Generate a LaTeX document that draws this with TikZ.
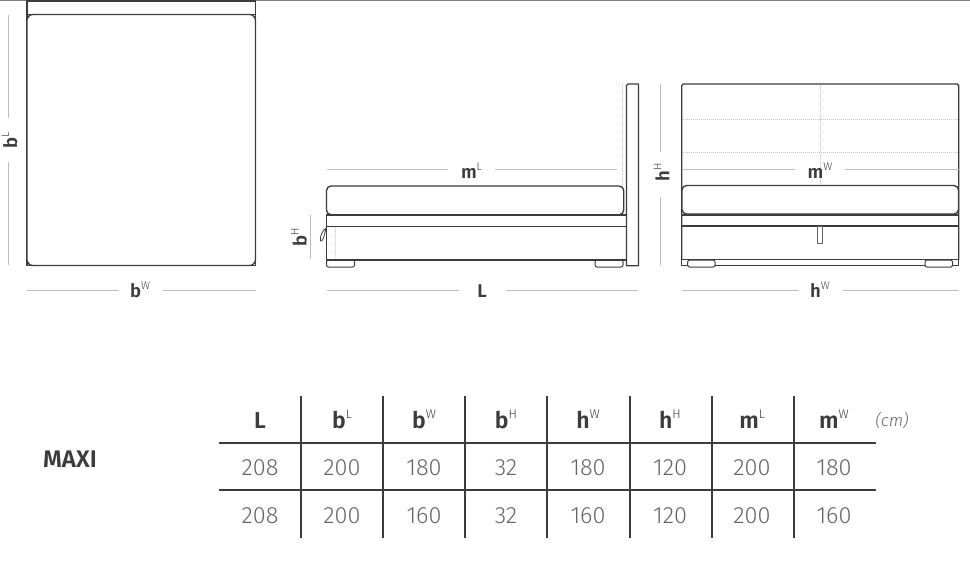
\documentclass[tikz,border=0pt]{standalone}
\usepackage{fontspec}
\setmainfont{Fira Sans}
\newfontfamily\lightfont{Fira Sans Light}
\newfontfamily\medfont{Fira Sans SemiBold}
\definecolor{ink}{HTML}{3C3C3C}
\definecolor{dimc}{HTML}{BDBDBD}
\definecolor{numc}{HTML}{666666}
\definecolor{dotc}{HTML}{C4C4C4}
\newcommand{\dimlab}[2]{{\fontsize{18.5}{18}\selectfont\medfont #1}\raisebox{8pt}{\fontsize{11}{11}\selectfont\lightfont #2}}
\newcommand{\headlab}[2]{{\fontsize{23}{22}\selectfont\medfont #1}\raisebox{10pt}{\fontsize{12.5}{12}\selectfont\lightfont #2}}
\tikzset{
  x=1pt,y=-1pt,
  obj/.style={draw=ink,line width=1.35pt,line join=round},
  dimline/.style={draw=dimc,line width=0.9pt},
  dots/.style={draw=dotc,line width=0.8pt,dash pattern=on 1pt off 1pt},
  lab/.style={inner sep=0pt,text=ink},
  num/.style={inner sep=0pt,text=numc,font=\fontsize{23.5}{22}\selectfont\lightfont},
  head/.style={inner sep=0pt,text=ink},
  grid/.style={draw=ink,line width=1.4pt},
}
\begin{document}
\begin{tikzpicture}
\useasboundingbox[fill=white] (0,0) rectangle (970,566);
% top rule
\draw[draw=gray,line width=1.2pt] (0,0.3) -- (970,0.3);
\draw[draw=ink,line width=2.4pt] (27,0.6) -- (255.5,0.6);
% top view
\draw[obj] (27,0.5) rectangle (255.5,14.5);
\draw[obj] (27,14.5) rectangle (255.5,265.5);
\draw[obj,fill=white,rounded corners=6pt] (27,14.5) rectangle (255.5,265.5);
\draw[dimline] (8,15) -- (8,118) (8,162) -- (8,265);
\node[lab,rotate=90] (bl) at (9.5,140) {\dimlab{b}{L}};
\draw[dimline] (27,290.5) -- (119,290.5) (163,290.5) -- (255.5,290.5);
\node[lab] (bw) at (140,290) {\dimlab{b}{W}};
% side view: dotted headboard edge
\draw[dots] (622,84) -- (622,186);
\draw[dots] (335,227) -- (335,260);
% headboard
\draw[obj] (626.5,85.5) -- (628,84) -- (638.5,84) -- (638.5,265.7) -- (626.5,265.7) -- cycle;
% base
\draw[obj] (326.5,215) rectangle (626.5,260);
\draw[obj,line width=1.6pt] (326.5,226.5) -- (626.5,226.5);
% mattress
\draw[obj,fill=white,rounded corners=4.5pt] (326.5,186) rectangle (623.7,214.7);
% feet
\draw[obj,line width=1pt,rounded corners=2pt] (326.5,260) rectangle (354.5,267);
\draw[obj,line width=1pt,rounded corners=2pt] (595,260) rectangle (623,267);
% handle
\draw[draw=ink,line width=0.8pt] (326.5,228) .. controls (322,230) and (319.5,238) .. (320.5,241) .. controls (322,243) and (324.5,236) .. (326,228);
\draw[dimline] (326.5,169.5) -- (448,169.5) (495,169.5) -- (617,169.5);
\node[lab] (ml) at (471.5,171) {\dimlab{m}{L}};
\draw[dimline] (310.5,215) -- (310.5,259);
\node[lab,rotate=90] (bh) at (299,237) {\dimlab{b}{H}};
\draw[dimline] (326.5,290.5) -- (459,290.5) (506,290.5) -- (638,290.5);
\node[lab] (ll) at (482,291) {{\fontsize{18.5}{18}\selectfont\medfont L}};
% front view
\draw[dots] (683,119.5) -- (958,119.5) (683,152.5) -- (958,152.5);
\draw[dots] (820.5,85) -- (820.5,185);
\draw[obj,rounded corners=1.5pt] (681.7,260) -- (681.7,84) -- (958.7,84) -- (958.7,260);
\draw[dimline] (682,169.5) -- (795,169.5) (845,169.5) -- (958.5,169.5);
\node[lab] (mw) at (820,171) {\dimlab{m}{W}};
\draw[obj,fill=white,rounded corners=4.5pt] (682,185.5) rectangle (958.5,214);
\draw[obj] (681.7,215) -- (958.7,215);
\draw[obj] (681.7,226) -- (958.7,226);
\draw[obj] (681.7,259.5) -- (958.7,259.5);
\draw[obj] (681.7,259.5) -- (681.7,265.3) -- (958.7,265.3) -- (958.7,259.5);
\draw[obj,line width=0.9pt,draw=ink!80] (817.8,226.5) rectangle (822.5,243.5);
\draw[obj,line width=1pt,fill=white,rounded corners=2pt] (687.7,260) rectangle (715,267);
\draw[obj,line width=1pt,fill=white,rounded corners=2pt] (925,260) rectangle (952.5,267);
\draw[dimline] (660.5,84) -- (660.5,152) (660.5,197) -- (660.5,265);
\node[lab,rotate=90] (hh) at (661.5,172) {\dimlab{h}{H}};
\draw[dimline] (682,290.5) -- (798.5,290.5) (842.5,290.5) -- (959,290.5);
\node[lab] (hw) at (820,290) {\dimlab{h}{W}};
% table
\foreach \x in {301,383,465,547,630,712,794}
  \draw[grid] (\x,395.5) -- (\x,537.5);
\draw[grid] (219,443) -- (876,443);
\draw[grid] (219,490) -- (876,490);
\node[head] (t1) at (260,420.5) {\headlab{L}{}};
\node[head] (t2) at (342,419.5) {\headlab{b}{L}};
\node[head] (t3) at (424,419.5) {\headlab{b}{W}};
\node[head] (t4) at (506,419.5) {\headlab{b}{H}};
\node[head] (t5) at (588,419.5) {\headlab{h}{W}};
\node[head] (t6) at (670,419.5) {\headlab{h}{H}};
\node[head] (t7) at (752,419.5) {\headlab{m}{L}};
\node[head] (t8) at (834,419.5) {\headlab{m}{W}};
\node[lab,text=numc,font=\fontsize{17}{17}\selectfont\lightfont\itshape] (cm) at (892,421) {(cm)};
\node[head,font=\fontsize{24}{24}\selectfont\medfont] (maxi) at (70,459) {MAXI};
\node[num] (a1) at (260,468) {208};
\node[num] (a2) at (342,468) {200};
\node[num] (a3) at (424,468) {180};
\node[num] (a4) at (506,468) {32};
\node[num] (a5) at (588,468) {180};
\node[num] (a6) at (670,468) {120};
\node[num] (a7) at (752,468) {200};
\node[num] (a8) at (834,468) {180};
\node[num] (b1) at (260,515.5) {208};
\node[num] (b2) at (342,515.5) {200};
\node[num] (b3) at (424,515.5) {160};
\node[num] (b4) at (506,515.5) {32};
\node[num] (b5) at (588,515.5) {160};
\node[num] (b6) at (670,515.5) {120};
\node[num] (b7) at (752,515.5) {200};
\node[num] (b8) at (834,515.5) {160};
\end{tikzpicture}
\end{document}
